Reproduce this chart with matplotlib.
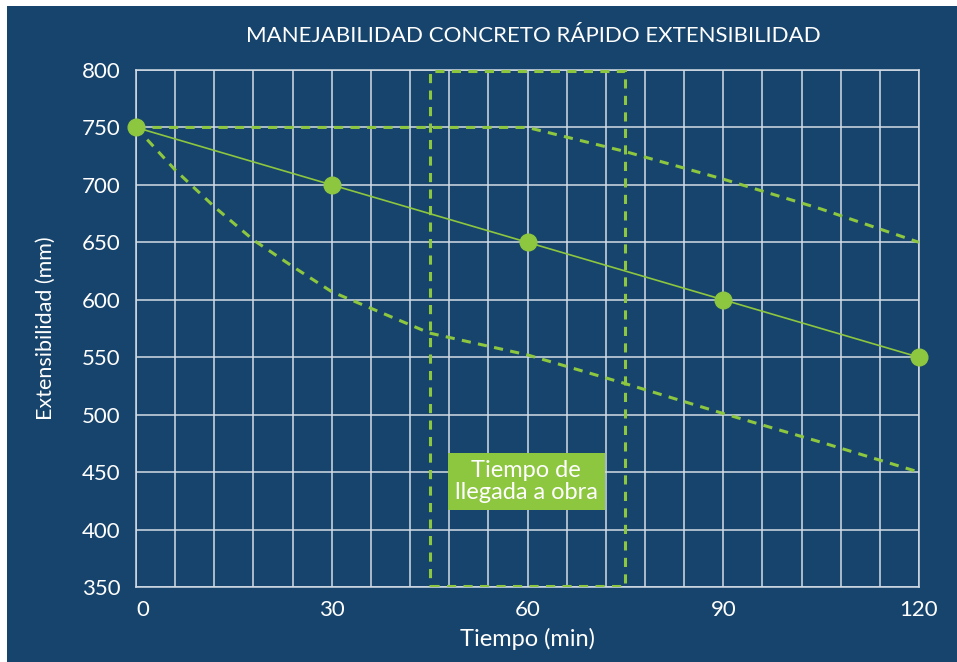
import numpy as np
import matplotlib.pyplot as plt
from matplotlib.patches import Rectangle

# data
tiempo_medio = [0, 30, 60, 90, 120]
ext_medio = [750, 700, 650, 600, 550]

tiempo_sup = [0, 60, 75, 90, 105, 120]
ext_sup = [750, 750, 729, 705, 679, 650]

tiempo_inf = [0, 6, 12, 18, 24, 30, 45, 60, 75, 90, 105, 120]
ext_inf = [750, 713, 681, 652, 629, 607, 571, 552, 527, 501, 476, 450]

llegada_ini, llegada_fin = 45, 75
x_ticks = [0, 30, 60, 90, 120]
y_ticks = [350, 400, 450, 500, 550, 600, 650, 700, 750, 800]

azul = '#17446c'
verde = '#8dc63f'
rejilla = '#d3dce6'
guion = (0, (3, 2.4))

plt.rcParams['font.family'] = ['Lato', 'DejaVu Sans']

fig = plt.figure(figsize=(9.57, 6.62), dpi=100, facecolor='white')
fig.patches.append(Rectangle((7 / 957, 0), 1, 1 - 6 / 662, transform=fig.transFigure,
                             facecolor=azul, edgecolor='none', zorder=-10))

ax = fig.add_axes([136 / 957, 1 - 587 / 662, (919 - 136) / 957, (587 - 70) / 662])
ax.set_facecolor(azul)
ax.set_xlim(0, 120)
ax.set_ylim(350, 800)

ax.set_xticks(np.arange(0, 121, 6), minor=True)
ax.set_xticks(x_ticks)
ax.set_yticks(y_ticks)
ax.grid(True, which='both', axis='x', color=rejilla, lw=1.1)
ax.grid(True, which='major', axis='y', color=rejilla, lw=1.1)
ax.set_axisbelow(True)
for s in ax.spines.values():
    s.set_color(rejilla)
    s.set_linewidth(1.1)
ax.tick_params(which='both', length=0, colors='white', labelsize=16)
ax.tick_params(axis='x', pad=9)
ax.tick_params(axis='y', pad=11)
ax.get_xticklabels()[0].set_horizontalalignment('left')

ax.plot(tiempo_sup, ext_sup, color=verde, lw=2.2, ls=guion, zorder=3)
ax.plot(tiempo_inf, ext_inf, color=verde, lw=2.2, ls=guion, zorder=3)
ax.plot(tiempo_medio, ext_medio, color=verde, lw=1.2, marker='o', ms=12,
        zorder=4, clip_on=False)

ax.add_patch(Rectangle((llegada_ini, 351), llegada_fin - llegada_ini, 448, fill=False,
                       edgecolor=verde, lw=2.2, ls=guion, zorder=3))
ax.text(59.8, 442, 'Tiempo de\nllegada a obra', color='white', fontsize=17, ha='center',
        va='center', linespacing=1.05, zorder=5,
        bbox=dict(boxstyle='square,pad=0.3', facecolor=verde, edgecolor='none'))

ax.set_xlabel('Tiempo (min)', color='white', fontsize=17, labelpad=6)
ax.set_ylabel('Extensibilidad (mm)', color='white', fontsize=15.5, labelpad=19)
fig.text(533 / 957, 1 - 36 / 662, 'MANEJABILIDAD CONCRETO RÁPIDO EXTENSIBILIDAD',
         color='white', fontsize=16, ha='center', va='center')

fig.savefig('out.png', dpi=100, facecolor='white')
